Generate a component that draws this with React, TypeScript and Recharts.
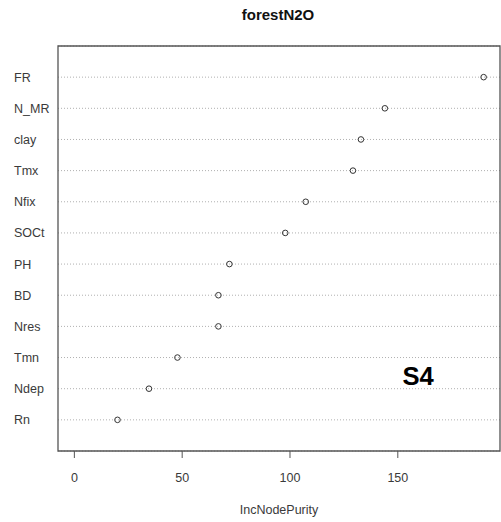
import { CartesianGrid, ReferenceArea, Scatter, ScatterChart, XAxis, YAxis } from 'recharts'

// variable importance, sorted top to bottom
const variables = ['FR', 'N_MR', 'clay', 'Tmx', 'Nfix', 'SOCt', 'PH', 'BD', 'Nres', 'Tmn', 'Ndep', 'Rn']
const purity = [189.8, 144.0, 132.9, 129.2, 107.3, 97.8, 71.9, 66.8, 66.8, 47.8, 34.6, 20.0]
const xTicks = [0, 50, 100, 150]

const n = variables.length
const rows = variables.map((name, i) => ({ name, value: purity[i], pos: n - i }))
const yTicks = rows.map((r) => r.pos)

const xMax = Math.max(...purity)
const pad = xMax * 0.04
const xDomain = [-pad, xMax + pad]

const font = '"Liberation Sans", Arial, sans-serif'
const textColor = '#3a3a3a'

const YTick = (props: any) => {
  const { y, payload } = props
  const row = rows.find((r) => r.pos === payload.value)
  return (
    <text x={14} y={y} dy={4.5} textAnchor='start' fontSize={12.5} fill={textColor} fontFamily={font}>
      {row ? row.name : ''}
    </text>
  )
}

const Dot = (props: any) => (
  <circle cx={props.cx} cy={props.cy} r={2.8} fill='none' stroke='#333' strokeWidth={1} />
)

export default function App() {
  return (
    <div style={{ position: 'absolute', left: 0, top: 0, width: 501, height: 522, background: '#fff', fontFamily: font }}>
      <div style={{ position: 'absolute', left: 0, width: 556, top: 6, textAlign: 'center', fontWeight: 'bold', fontSize: 15, color: '#111' }}>
        forestN2O
      </div>
      <ScatterChart width={501} height={522} margin={{ top: 46, right: 1, bottom: 0, left: 0 }}>
        <CartesianGrid horizontal={true} vertical={false} stroke='#b0b0b0' strokeDasharray='1 2' />
        <XAxis
          type='number'
          dataKey='value'
          domain={xDomain}
          ticks={xTicks}
          allowDataOverflow
          height={71}
          axisLine={false}
          tickSize={7}
          tickMargin={15}
          tickLine={{ stroke: '#555' }}
          tick={{ fontSize: 12.5, fill: textColor, fontFamily: font }}
          label={{ value: 'IncNodePurity', position: 'insideBottom', offset: 8, fontSize: 12.5, fill: textColor, fontFamily: font }}
        />
        <YAxis
          type='number'
          dataKey='pos'
          domain={[0, n + 1]}
          ticks={yTicks}
          width={58}
          axisLine={false}
          tickLine={false}
          tick={<YTick />}
        />
        <ReferenceArea x1={xDomain[0]} x2={xDomain[1]} y1={0} y2={n + 1} fill='none' stroke='#555' strokeWidth={1.3} ifOverflow='visible' />
        <Scatter data={rows} shape={<Dot />} isAnimationActive={false} />
      </ScatterChart>
      <svg style={{ position: 'absolute', left: 0, top: 0 }} width={501} height={522}>
        <text x={402.5} y={384.5} fontSize={25.6} fontWeight='bold' fill='#000' fontFamily={font}>
          S4
        </text>
      </svg>
    </div>
  )
}
